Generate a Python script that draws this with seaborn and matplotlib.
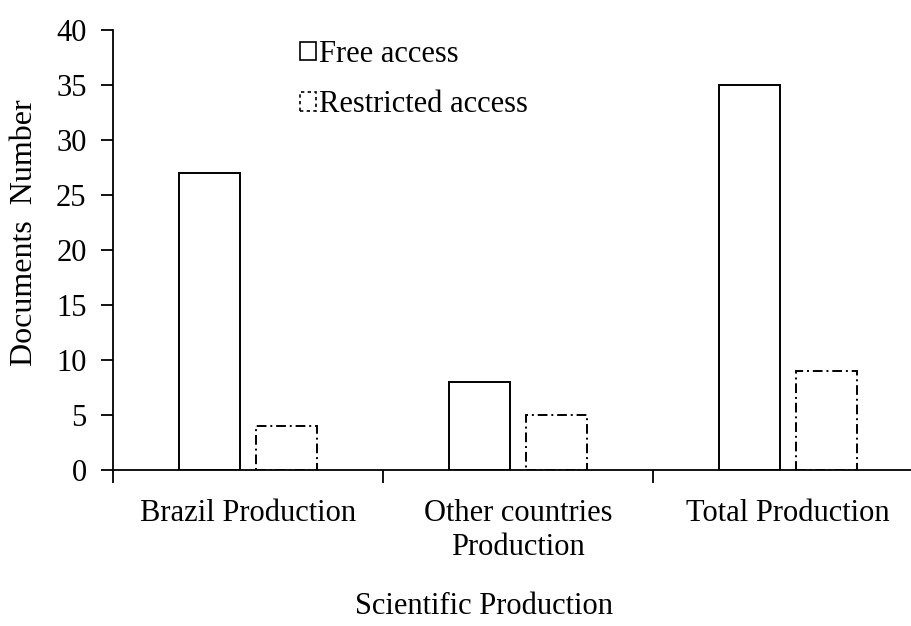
import pandas as pd
import matplotlib.pyplot as plt
import seaborn as sns
from matplotlib.patches import Patch

categories = ['Brazil Production', 'Other countries\nProduction', 'Total Production']
free_access = [27, 8, 35]
restricted_access = [4, 5, 9]
groups = ['Free access', 'Restricted access']

df = pd.DataFrame({
    'category': categories * 2,
    'docs': free_access + restricted_access,
    'access': [groups[0]] * 3 + [groups[1]] * 3,
})

sns.set_style('ticks')
plt.rcParams['font.family'] = ['Liberation Serif', 'DejaVu Serif']
plt.rcParams['axes.edgecolor'] = 'black'
plt.rcParams['axes.linewidth'] = 1.3
plt.rcParams['text.color'] = 'black'
plt.rcParams['axes.labelcolor'] = 'black'

FS = 22

fig = plt.figure(figsize=(9.12, 6.26), dpi=100)
ax = fig.add_axes([113 / 912, 156 / 626, 799 / 912, 440 / 626])

sns.barplot(data=df, x='category', y='docs', hue='access', hue_order=groups,
            palette=['white', 'white'], width=0.572, gap=0.21, legend=False, ax=ax)

# outline styles: solid for free, dash-dot for restricted
for i, cont in enumerate(ax.containers):
    for bar in cont:
        bar.set_edgecolor('black')
        bar.set_linewidth(1.4)
        bar.set_linestyle('-' if i == 0 else (0, (5, 2, 1, 2)))

ax.set_yticks(range(0, 41, 5))
ax.set_xticks([-0.5, 0.5, 1.5, 2.5], minor=True)
sns.despine(ax=ax)
ax.spines['bottom'].set_bounds(-0.5, 2.5)
ax.set_xlim(-0.5, -0.5 + 799 / 270)
ax.set_ylim(0, 40)

ax.tick_params(axis='y', labelsize=FS, length=9, width=1.3, colors='black', pad=10)
ax.tick_params(axis='x', which='major', labelsize=FS, length=0, pad=21, colors='black')
ax.tick_params(axis='x', which='minor', length=9, width=1.3, colors='black')

ax.set_ylabel('Documents  Number', fontsize=FS + 1)
ax.yaxis.set_label_coords(-0.092, 0.539)
ax.set_xlabel('Scientific Production', fontsize=FS)
ax.xaxis.set_label_coords(0.464, -0.278)

handles = [Patch(facecolor='white', edgecolor='black', linewidth=1.2, label=groups[0]),
           Patch(facecolor='white', edgecolor='black', linewidth=1.2,
                 linestyle=(0, (2, 2)), label=groups[1])]
ax.legend(handles=handles, loc='upper left', bbox_to_anchor=(0.20, 1.04), frameon=False,
          fontsize=FS, handlelength=0.5, handleheight=0.55, handletextpad=0.1,
          labelspacing=0.7, labelcolor='black')

fig.savefig('out.png', dpi=100)
